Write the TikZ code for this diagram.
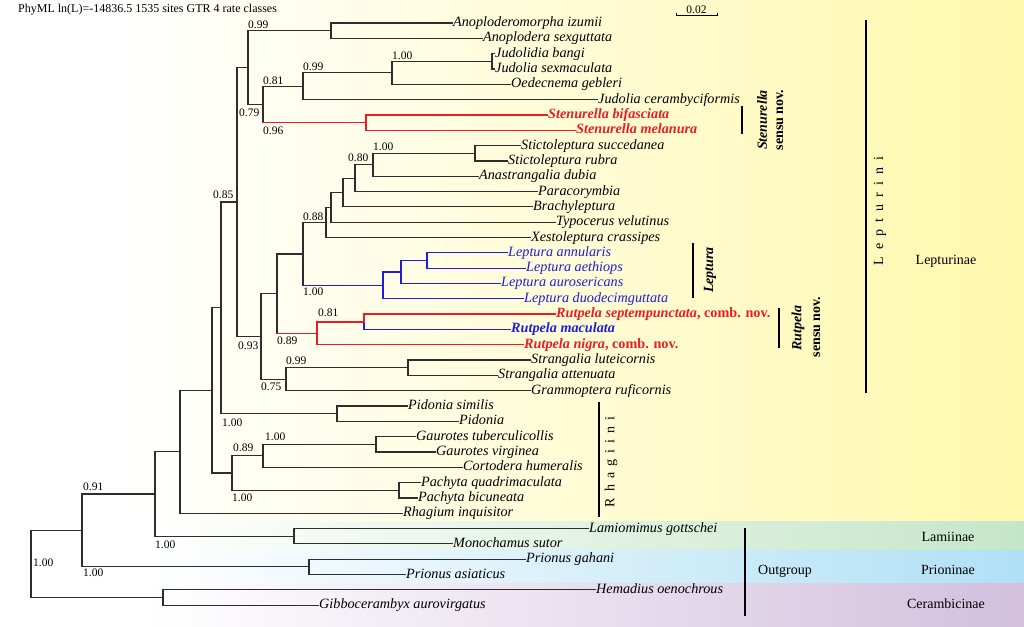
\documentclass[tikz,border=0pt]{standalone}
\usepackage{fontspec}
\setmainfont{Liberation Serif}
\definecolor{yel}{RGB}{255,248,172}
\definecolor{grn}{RGB}{196,230,200}
\definecolor{blu}{RGB}{176,224,245}
\definecolor{pur}{RGB}{210,192,222}
\definecolor{rd}{RGB}{232,30,36}
\definecolor{bl}{RGB}{30,30,215}
\definecolor{ln}{RGB}{45,45,45}
\newcommand{\clad}[5]{\draw[br] (#1 |- #2) -- (#1 |- #3); \draw[#4] (#1 |- #2) -- (#2); \draw[#5] (#1 |- #3) -- (#3);}
\begin{document}
\begin{tikzpicture}[x=1pt,y=-1pt,
 br/.style={draw=ln, line width=1.2pt, line cap=rect},
 rbr/.style={draw=rd, line width=1.4pt, line cap=rect},
 bbr/.style={draw=bl, line width=1.2pt, line cap=rect},
 leaf/.style={anchor=west, inner sep=1pt, font=\fontsize{14.2}{16}\selectfont\itshape, text height=10pt, text depth=3pt},
 rleaf/.style={leaf, text=rd, font=\fontsize{14.2}{16}\selectfont\bfseries\itshape},
 bleaf/.style={leaf, text=bl},
 sup/.style={anchor=base west, inner sep=0pt, font=\fontsize{11.5}{13}\selectfont},
 bar/.style={line width=2.2pt, draw=black},
 clade/.style={font=\fontsize{14}{16}\selectfont, rotate=90, inner sep=0pt},
 sub/.style={font=\fontsize{14}{16}\selectfont, inner sep=0pt}]
\useasboundingbox (0,0) rectangle (1024,626);
% background
\fill[white] (0,0) rectangle (1024,626);
\shade[left color=white, right color=yel] (120,0) rectangle (1024,521.5);
\shade[left color=white, right color=grn] (150,521.5) rectangle (1024,550);
\shade[left color=white, right color=blu] (150,550) rectangle (1024,583);
\shade[left color=white, right color=pur] (150,583) rectangle (1024,626);
% header and scale
\node[anchor=base west, inner sep=0pt, font=\fontsize{12}{14}\selectfont] (hdr) at (18,13) {PhyML ln(L)=-14836.5 1535 sites GTR 4 rate classes};
\coordinate (sb1) at (676,16);
\coordinate (sb2) at (717,16);
\draw[line width=1pt] (sb1) -- (sb2);
\draw[line width=0.8pt] (sb1) -- ++(0,-2.5);
\draw[line width=0.8pt] (sb2) -- ++(0,-2.5);
\node[inner sep=0pt, font=\fontsize{11.5}{13}\selectfont] (sbl) at (696.5,9.5) {0.02};
% leaves
\node[leaf] (l1) at (452,23.0) {Anoploderomorpha izumii};
\node[leaf] (l2) at (482,38.3) {Anoplodera sexguttata};
\node[leaf] (l3) at (494,53.6) {Judolidia bangi};
\node[leaf] (l4) at (494,69.0) {Judolia sexmaculata};
\node[leaf] (l5) at (510,84.3) {Oedecnema gebleri};
\node[leaf] (l6) at (597,99.6) {Judolia cerambyciformis};
\node[rleaf] (l7) at (547,114.9) {Stenurella bifasciata};
\node[rleaf] (l8) at (575,130.2) {Stenurella melanura};
\node[leaf] (l9) at (520,145.6) {Stictoleptura succedanea};
\node[leaf] (l10) at (507,160.9) {Stictoleptura rubra};
\node[leaf] (l11) at (478,176.2) {Anastrangalia dubia};
\node[leaf] (l12) at (537,191.5) {Paracorymbia};
\node[leaf] (l13) at (532,206.8) {Brachyleptura};
\node[leaf] (l14) at (555,222.2) {Typocerus velutinus};
\node[leaf] (l15) at (530,237.5) {Xestoleptura crassipes};
\node[bleaf] (l16) at (507,252.8) {Leptura annularis};
\node[bleaf] (l17) at (525,268.1) {Leptura aethiops};
\node[bleaf] (l18) at (500,283.4) {Leptura aurosericans};
\node[bleaf] (l19) at (523,298.8) {Leptura duodecimguttata};
\node[rleaf] (l20) at (555,314.1) {Rutpela septempunctata\upshape, comb. nov.};
\node[rleaf, text=bl] (l21) at (510,329.4) {Rutpela maculata};
\node[rleaf] (l22) at (523,344.7) {Rutpela nigra\upshape, comb. nov.};
\node[leaf] (l23) at (530,360.0) {Strangalia luteicornis};
\node[leaf] (l24) at (497,375.4) {Strangalia attenuata};
\node[leaf] (l25) at (530,390.7) {Grammoptera ruficornis};
\node[leaf] (l26) at (407,406.0) {Pidonia similis};
\node[leaf] (l27) at (458,421.3) {Pidonia};
\node[leaf] (l28) at (415,436.6) {Gaurotes tuberculicollis};
\node[leaf] (l29) at (435,452.0) {Gaurotes virginea};
\node[leaf] (l30) at (462,467.3) {Cortodera humeralis};
\node[leaf] (l31) at (420,482.6) {Pachyta quadrimaculata};
\node[leaf] (l32) at (417,497.9) {Pachyta bicuneata};
\node[leaf] (l33) at (402,513.2) {Rhagium inquisitor};
\node[leaf] (l34) at (588,528.5) {Lamiomimus gottschei};
\node[leaf] (l35) at (452,543.8) {Monochamus sutor};
\node[leaf] (l36) at (525,559.2) {Prionus gahani};
\node[leaf] (l37) at (405,574.5) {Prionus asiaticus};
\node[leaf] (l38) at (595,589.8) {Hemadius oenochrous};
\node[leaf] (l39) at (318,605.1) {Gibbocerambyx aurovirgatus};
% internal nodes
\coordinate (Jud) at (492,61.3);
\coordinate (M) at (392,72.8);
\coordinate (L) at (303,86.2);
\coordinate (Sten) at (366,122.6);
\coordinate (K) at (263,104.4);
\coordinate (Anop) at (331,30.7);
\coordinate (J) at (248,67.5);
\coordinate (BB) at (475,153.2);
\coordinate (AA) at (373,164.7);
\coordinate (Z) at (355,178.1);
\coordinate (Y) at (343,192.5);
\coordinate (X) at (331,207.3);
\coordinate (T) at (326,222.4);
\coordinate (W) at (427,260.5);
\coordinate (V) at (401,271.9);
\coordinate (U) at (383,285.4);
\coordinate (Q) at (303,253.9);
\coordinate (S) at (364,321.8);
\coordinate (R) at (317,333.2);
\coordinate (N) at (277,293.6);
\coordinate (P) at (408,367.7);
\coordinate (O) at (286,379.2);
\coordinate (I) at (261,336.4);
\coordinate (G) at (237,202);
\coordinate (Pid) at (337,413.7);
\coordinate (E) at (221,307.8);
\coordinate (Gau) at (376,444.3);
\coordinate (H) at (263,455.8);
\coordinate (Pac) at (399,490.3);
\coordinate (F) at (232,473);
\coordinate (D) at (212,390.4);
\coordinate (C) at (180,451.8);
\coordinate (Lam) at (294,536.2);
\coordinate (B) at (155,494);
\coordinate (Pri) at (309,566.8);
\coordinate (A) at (82,530.4);
\coordinate (Cer) at (163,597.4);
\coordinate (Root) at (31,563.9);
% branches
\clad{Anop}{l1.west}{l2.west}{br}{br}
\clad{Jud}{l3.west}{l4.west}{br}{br}
\clad{M}{Jud}{l5.west}{br}{br}
\clad{L}{M}{l6.west}{br}{br}
\draw[rbr] (Sten |- l7.west) -- (Sten |- l8.west);
\draw[rbr] (Sten |- l7.west) -- (l7.west);
\draw[rbr] (Sten |- l8.west) -- (l8.west);
\clad{K}{L}{Sten}{br}{rbr}
\clad{J}{Anop}{K}{br}{br}
\clad{BB}{l9.west}{l10.west}{br}{br}
\clad{AA}{BB}{l11.west}{br}{br}
\clad{Z}{AA}{l12.west}{br}{br}
\clad{Y}{Z}{l13.west}{br}{br}
\clad{X}{Y}{l14.west}{br}{br}
\clad{T}{X}{l15.west}{br}{br}
\draw[bbr] (W |- l16.west) -- (W |- l17.west);
\draw[bbr] (W |- l16.west) -- (l16.west);
\draw[bbr] (W |- l17.west) -- (l17.west);
\draw[bbr] (V |- W) -- (V |- l18.west);
\draw[bbr] (V |- W) -- (W);
\draw[bbr] (V |- l18.west) -- (l18.west);
\draw[bbr] (U |- V) -- (U |- l19.west);
\draw[bbr] (U |- V) -- (V);
\draw[bbr] (U |- l19.west) -- (l19.west);
\clad{Q}{T}{U}{br}{bbr}
\draw[rbr] (S |- l20.west) -- (S);
\draw[bbr] (S) -- (S |- l21.west);
\draw[rbr] (S |- l20.west) -- (l20.west);
\draw[bbr] (S |- l21.west) -- (l21.west);
\draw[rbr] (R |- S) -- (R |- l22.west);
\draw[rbr] (R |- S) -- (S);
\draw[rbr] (R |- l22.west) -- (l22.west);
\clad{N}{Q}{R}{br}{rbr}
\clad{P}{l23.west}{l24.west}{br}{br}
\clad{O}{P}{l25.west}{br}{br}
\clad{I}{N}{O}{br}{br}
\clad{G}{J}{I}{br}{br}
\clad{Pid}{l26.west}{l27.west}{br}{br}
\clad{E}{G}{Pid}{br}{br}
\clad{Gau}{l28.west}{l29.west}{br}{br}
\clad{H}{Gau}{l30.west}{br}{br}
\clad{Pac}{l31.west}{l32.west}{br}{br}
\clad{F}{H}{Pac}{br}{br}
\clad{D}{E}{F}{br}{br}
\clad{C}{D}{l33.west}{br}{br}
\clad{Lam}{l34.west}{l35.west}{br}{br}
\clad{B}{C}{Lam}{br}{br}
\clad{Pri}{l36.west}{l37.west}{br}{br}
\clad{A}{B}{Pri}{br}{br}
\clad{Cer}{l38.west}{l39.west}{br}{br}
\clad{Root}{A}{Cer}{br}{br}
% support values
\node[sup] (s1) at (248,29) {0.99};
\node[sup] (s2) at (239,116.7) {0.79};
\node[sup] (s3) at (263,84) {0.81};
\node[sup] (s4) at (263,134.7) {0.96};
\node[sup] (s5) at (303,70.7) {0.99};
\node[sup] (s6) at (392,59.5) {1.00};
\node[sup] (s7) at (213,198) {0.85};
\node[sup] (s8) at (348,161.7) {0.80};
\node[sup] (s9) at (373,150) {1.00};
\node[sup] (s10) at (303,220) {0.88};
\node[sup] (s11) at (303,295.7) {1.00};
\node[sup] (s12) at (318,316.7) {0.81};
\node[sup] (s13) at (277,344) {0.89};
\node[sup] (s14) at (238,349) {0.93};
\node[sup] (s15) at (286,364) {0.99};
\node[sup] (s16) at (261,390) {0.75};
\node[sup] (s17) at (222,426) {1.00};
\node[sup] (s18) at (265,440.7) {1.00};
\node[sup] (s19) at (233,451.7) {0.89};
\node[sup] (s20) at (232,501.7) {1.00};
\node[sup] (s21) at (83,490) {0.91};
\node[sup] (s22) at (155,548) {1.00};
\node[sup] (s23) at (33,566.7) {1.00};
\node[sup] (s24) at (83,576.7) {1.00};
% clade bars and labels
\draw[bar] (742,106) coordinate (stb1) -- (742,134) coordinate (stb2);
\node[clade, font=\fontsize{14}{16}\selectfont\bfseries\itshape] (stA) at (762,120) {Stenurella};
\node[clade, font=\fontsize{14}{16}\selectfont\bfseries] (stB) at (780,120) {sensu nov.};
\draw[bar] (693,243) coordinate (lpb1) -- (693,298) coordinate (lpb2);
\node[clade, font=\fontsize{14}{16}\selectfont\bfseries\itshape] (lpA) at (710,270) {Leptura};
\draw[bar] (779,308) coordinate (rub1) -- (779,348) coordinate (rub2);
\node[clade, font=\fontsize{14}{16}\selectfont\bfseries\itshape] (ruA) at (798,328) {Rutpela};
\node[clade, font=\fontsize{14}{16}\selectfont\bfseries] (ruB) at (817,327) {sensu nov.};
\draw[bar] (866,20) coordinate (lib1) -- (866,393) coordinate (lib2);
\node[clade] (liA) at (880,211) {L\hspace{7pt}e\hspace{7pt}p\hspace{7pt}t\hspace{7pt}u\hspace{7pt}r\hspace{7pt}i\hspace{7pt}n\hspace{7pt}i};
\node[sub] (lepn) at (946,261) {Lepturinae};
\draw[bar] (599,402) coordinate (rhb1) -- (599,517) coordinate (rhb2);
\node[clade] (rhA) at (611,462) {R\hspace{6pt}h\hspace{6pt}a\hspace{6pt}g\hspace{6pt}i\hspace{6pt}i\hspace{6pt}n\hspace{6pt}i};
\draw[bar] (745,528) coordinate (ogb1) -- (745,616) coordinate (ogb2);
\node[sub] (og) at (785,571) {Outgroup};
\node[sub] (lam) at (948,537) {Lamiinae};
\node[sub] (pri) at (948,570) {Prioninae};
\node[sub] (cer) at (946,604) {Cerambicinae};
\end{tikzpicture}
\end{document}
